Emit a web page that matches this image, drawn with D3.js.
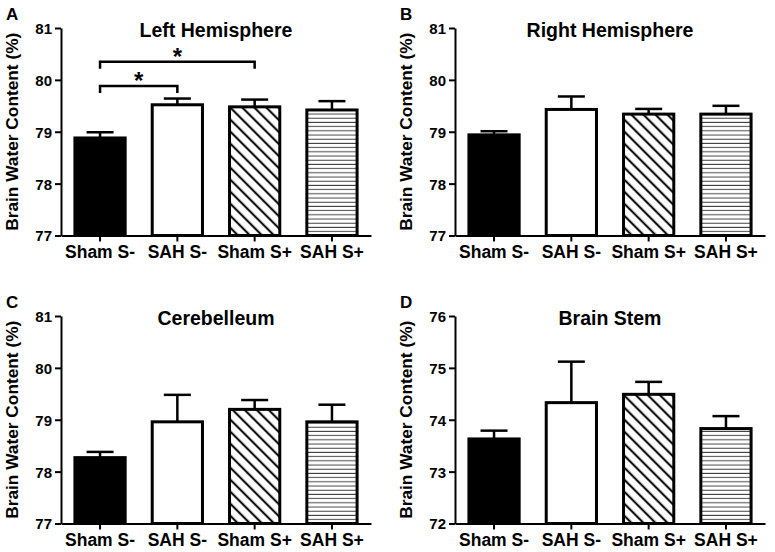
<!DOCTYPE html>
<html>
<head>
<meta charset="utf-8">
<script src="https://cdn.jsdelivr.net/npm/d3@7"></script>
<style>
  html, body { margin: 0; padding: 0; background: #fff; }
  svg { display: block; }
  text { font-family: "Liberation Sans", Arial, Helvetica, sans-serif; font-weight: bold; fill: #000; }
</style>
</head>
<body>
<svg id="chart" width="775" height="552"></svg>
<script>
// ---------- DATA ----------
const categories = ["Sham S-", "SAH S-", "Sham S+", "SAH S+"];

const leftMean  = [78.88, 79.52, 79.48, 79.42];
const leftErr   = [0.11, 0.12, 0.14, 0.17];

const rightMean = [78.94, 79.43, 79.34, 79.34];
const rightErr  = [0.07, 0.25, 0.10, 0.16];

const cereMean  = [78.27, 78.96, 79.20, 78.96];
const cereErr   = [0.11, 0.52, 0.18, 0.33];

const stemMean  = [73.63, 74.33, 74.49, 73.83];
const stemErr   = [0.16, 0.79, 0.24, 0.24];

const ticksUpper = [77, 78, 79, 80, 81];
const ticksStem  = [72, 73, 74, 75, 76];

const panelLetters = ["A", "B", "C", "D"];
const panelTitles  = ["Left Hemisphere", "Right Hemisphere", "Cerebelleum", "Brain Stem"];
const yAxisTitle   = "Brain Water Content (%)";

// significance brackets for panel A: [from index, to index, y level in data units]
const sigLeft = [[0, 1, 79.88], [0, 2, 80.35]];
const sigLabel = "*";

// ---------- LAYOUT ----------
const fills = ["#000", "#fff", "url(#diag)", "url(#horiz)"];
const panels = [
  {x0: 61,  y0: 28,  mean: leftMean,  err: leftErr,  ticks: ticksUpper, sig: sigLeft},
  {x0: 455, y0: 28,  mean: rightMean, err: rightErr, ticks: ticksUpper, sig: []},
  {x0: 61,  y0: 316, mean: cereMean,  err: cereErr,  ticks: ticksUpper, sig: []},
  {x0: 455, y0: 316, mean: stemMean,  err: stemErr,  ticks: ticksStem,  sig: []}
];
const plotW = 310, plotH = 207.5;

const svg = d3.select("#chart");
const defs = svg.append("defs");

// diagonal "\" hatch
const pd = defs.append("pattern").attr("id", "diag")
  .attr("patternUnits", "userSpaceOnUse").attr("width", 8.5).attr("height", 10)
  .attr("patternTransform", "rotate(-45)");
pd.append("rect").attr("width", 8.5).attr("height", 10).attr("fill", "#fff");
pd.append("line").attr("x1", 4).attr("x2", 4).attr("y1", -1).attr("y2", 11)
  .attr("stroke", "#000").attr("stroke-width", 2);

// horizontal lines hatch
const ph = defs.append("pattern").attr("id", "horiz")
  .attr("patternUnits", "userSpaceOnUse").attr("width", 10).attr("height", 4.2);
ph.append("rect").attr("width", 10).attr("height", 4.2).attr("fill", "#fff");
ph.append("line").attr("x1", -1).attr("x2", 11).attr("y1", 2).attr("y2", 2)
  .attr("stroke", "#444").attr("stroke-width", 1);

panels.forEach((p, i) => {
  const g = svg.append("g").attr("transform", `translate(${p.x0},${p.y0})`);

  const x = d3.scaleBand().domain(categories).range([0, plotW])
    .paddingInner(0.35).paddingOuter(0.18);
  const y = d3.scaleLinear().domain([p.ticks[0], p.ticks[p.ticks.length - 1]]).range([plotH, 0]);

  const rows = categories.map((c, k) => ({c, m: p.mean[k], e: p.err[k], f: fills[k]}));

  // error bars (upper only)
  const eb = g.selectAll(".eb").data(rows).enter().append("g")
    .attr("stroke", "#000").attr("stroke-width", 2.5);
  eb.append("line")
    .attr("x1", d => x(d.c) + x.bandwidth() / 2).attr("x2", d => x(d.c) + x.bandwidth() / 2)
    .attr("y1", d => y(d.m)).attr("y2", d => y(d.m + d.e));
  eb.append("line")
    .attr("x1", d => x(d.c) + x.bandwidth() / 2 - 13.5).attr("x2", d => x(d.c) + x.bandwidth() / 2 + 13.5)
    .attr("y1", d => y(d.m + d.e)).attr("y2", d => y(d.m + d.e));

  // bars
  g.selectAll(".bar").data(rows).enter().append("rect")
    .attr("x", d => x(d.c)).attr("width", x.bandwidth())
    .attr("y", d => y(d.m)).attr("height", d => y(p.ticks[0]) - y(d.m))
    .attr("fill", d => d.f).attr("stroke", "#000").attr("stroke-width", 3);

  // y axis
  const ya = g.append("g").call(d3.axisLeft(y).tickValues(p.ticks).tickFormat(d3.format("d"))
    .tickSize(6).tickSizeOuter(0).tickPadding(3));
  ya.select(".domain").attr("stroke-width", 2);
  ya.selectAll(".tick line").attr("stroke-width", 2);
  ya.selectAll(".tick text").style("font-size", "15px").attr("dy", "0.36em");

  // x axis
  const xa = g.append("g").attr("transform", `translate(0,${plotH})`)
    .call(d3.axisBottom(x).tickSize(6).tickSizeOuter(0).tickPadding(3));
  xa.select(".domain").attr("stroke-width", 2);
  xa.selectAll(".tick line").attr("stroke-width", 2);
  xa.selectAll(".tick text").style("font-size", "17.5px").attr("dy", "0.75em");

  // title
  g.append("text").attr("x", plotW / 2).attr("y", 9)
    .attr("text-anchor", "middle").style("font-size", "19.5px").text(panelTitles[i]);

  // y-axis title
  g.append("text").attr("transform", `translate(-43,${plotH / 2}) rotate(-90)`)
    .attr("text-anchor", "middle").style("font-size", "17.3px").text(yAxisTitle);

  // panel letter
  g.append("text").attr("x", -55).attr("y", -8)
    .style("font-size", "17px").text(panelLetters[i]);

  // significance brackets
  p.sig.forEach(s => {
    const xa1 = x(categories[s[0]]) + x.bandwidth() / 2;
    const xa2 = x(categories[s[1]]) + x.bandwidth() / 2;
    const yy = y(s[2]);
    g.append("path")
      .attr("d", `M${xa1},${yy + 7}V${yy}H${xa2}V${yy + 7}`)
      .attr("fill", "none").attr("stroke", "#000").attr("stroke-width", 2.5);
    g.append("text").attr("x", (xa1 + xa2) / 2).attr("y", yy + 3)
      .attr("text-anchor", "middle").style("font-size", "24px").text(sigLabel);
  });
});
</script>
</body>
</html>
